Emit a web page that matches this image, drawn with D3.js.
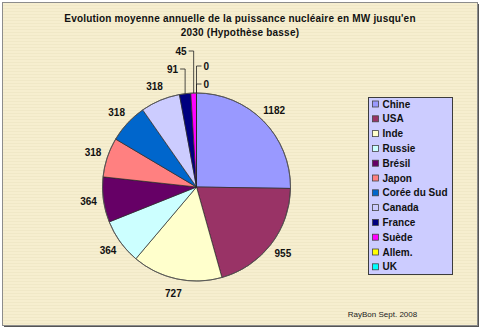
<!DOCTYPE html>
<html>
<head>
<meta charset="utf-8">
<script src="https://cdn.jsdelivr.net/npm/d3@7"></script>
<style>
  html, body { margin: 0; padding: 0; background: #ffffff; }
  svg { display: block; }
  text { font-family: "Liberation Sans", Arial, sans-serif; }
</style>
</head>
<body>
<svg id="chart" width="480" height="329"></svg>
<script>
// Average yearly nuclear capacity growth (MW) up to 2030, low scenario
const categories = ["Chine", "USA", "Inde", "Russie", "Brésil", "Japon",
  "Corée du Sud", "Canada", "France", "Suède", "Allem.", "UK"];
const values = [1182, 955, 727, 364, 364, 318, 318, 318, 91, 45, 0, 0];
const colors = ["#9999FF", "#993366", "#FFFFCC", "#CCFFFF", "#660066", "#FF8080",
  "#0066CC", "#CCCCFF", "#000080", "#FF00FF", "#FFFF00", "#00FFFF"];
const titleLines = ["Evolution moyenne annuelle de la puissance nucléaire en MW jusqu'en",
  "2030 (Hypothèse basse)"];
const creditText = "RayBon Sept. 2008";

const W = 480, H = 329;
const svg = d3.select("#chart");

// parchment background texture
const defs = svg.append("defs");
const pat = defs.append("pattern")
  .attr("id", "paper").attr("patternUnits", "userSpaceOnUse")
  .attr("width", 6).attr("height", 3);
pat.append("rect").attr("width", 6).attr("height", 3).attr("fill", "#F6EECF");
pat.append("rect").attr("y", 2).attr("width", 6).attr("height", 1).attr("fill", "#EFE6C3").attr("opacity", 0.7);

// frame with drop shadow on the right and bottom
svg.append("rect").attr("x", 4).attr("y", 4).attr("width", 475).attr("height", 323)
  .attr("fill", "#555");
svg.append("rect").attr("x", 2.5).attr("y", 2.5).attr("width", 475).attr("height", 323)
  .attr("fill", "url(#paper)").attr("stroke", "#8c8c8c").attr("stroke-width", 1);

// title
const title = svg.append("text")
  .attr("text-anchor", "middle")
  .attr("font-size", "10px").attr("font-weight", "bold")
  .attr("letter-spacing", "0.2px")
  .attr("fill", "#111");
titleLines.forEach((line, i) => {
  title.append("tspan").attr("x", 240).attr("y", 21.5 + i * 14.5).text(line);
});

// pie
const cx = 196.5, cy = 187, r = 94;
const labelR = 109;
const g = svg.append("g").attr("transform", `translate(${cx},${cy})`);

const pie = d3.pie().sort(null).value(d => d.value);
const data = categories.map((c, i) => ({ name: c, value: values[i], color: colors[i] }));
const arcs = pie(data);
const arcGen = d3.arc().innerRadius(0).outerRadius(r);

g.selectAll("path.slice").data(arcs).enter().append("path")
  .attr("class", "slice")
  .attr("d", arcGen)
  .attr("fill", d => d.data.color)
  .attr("stroke", "#2a2a2a").attr("stroke-width", 0.7)
  .attr("stroke-linejoin", "round");
g.append("circle").attr("r", r).attr("fill", "none")
  .attr("stroke", "#555").attr("stroke-width", 0.8);

// value labels; narrow slices get elbow leader lines stacked above the pie
const smallLimit = 100;
const leaderGap = { left: 24, right: 9 }, leaderStep = 18, tick = 5;
const levels = { left: 0, right: 0 };
arcs.forEach(a => {
  const mid = (a.startAngle + a.endAngle) / 2;
  const sx = Math.sin(mid), sy = -Math.cos(mid);
  if (a.data.value >= smallLimit) {
    g.append("text")
      .attr("x", labelR * sx).attr("y", labelR * sy)
      .attr("dy", "0.36em").attr("text-anchor", "middle")
      .attr("font-size", "10px").attr("font-weight", "bold").attr("fill", "#111")
      .text(a.data.value);
  } else {
    const side = sx < -1e-6 ? "left" : "right";
    const ax = r * sx, ay = r * sy;
    const ly = -r - leaderGap[side] - leaderStep * levels[side]++;
    const dir = side === "left" ? -1 : 1;
    g.append("path")
      .attr("d", `M${ax},${ay}V${ly}H${ax + dir * tick}`)
      .attr("fill", "none").attr("stroke", "#222").attr("stroke-width", 0.8);
    g.append("text")
      .attr("x", ax + dir * (tick + 2)).attr("y", ly)
      .attr("dy", "0.36em").attr("text-anchor", side === "left" ? "end" : "start")
      .attr("font-size", "10px").attr("font-weight", "bold").attr("fill", "#111")
      .text(a.data.value);
  }
});

// legend
const lg = svg.append("g").attr("transform", "translate(368,97)");
lg.append("rect").attr("x", 0.5).attr("y", 0.5).attr("width", 84).attr("height", 177)
  .attr("fill", "#CCCCFF").attr("stroke", "#3c3c3c").attr("stroke-width", 1);
const item = lg.selectAll("g.item").data(data).enter().append("g")
  .attr("class", "item")
  .attr("transform", (d, i) => `translate(4.5,${7 + i * 14.8})`);
item.append("rect").attr("x", 0).attr("y", -3).attr("width", 6).attr("height", 6)
  .attr("fill", d => d.color).attr("stroke", "#444").attr("stroke-width", 0.8);
item.append("text").attr("x", 10).attr("y", 0).attr("dy", "0.36em")
  .attr("font-size", "10px").attr("font-weight", "bold").attr("fill", "#111")
  .text(d => d.name);

// credit
svg.append("text").attr("x", 382.5).attr("y", 317).attr("text-anchor", "middle")
  .attr("font-size", "8px").attr("fill", "#222").text(creditText);
</script>
</body>
</html>
